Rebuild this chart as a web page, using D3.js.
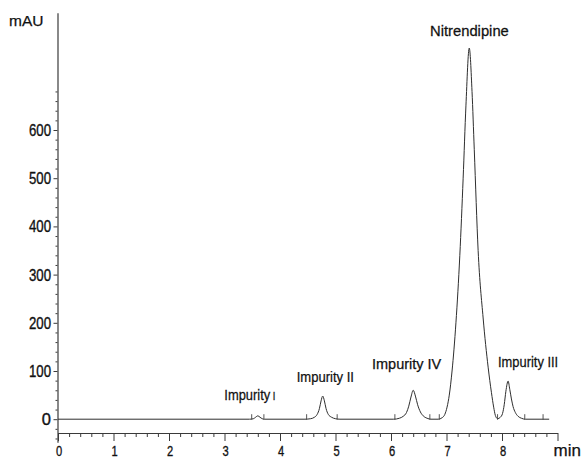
<!DOCTYPE html>
<html>
<head>
<meta charset="utf-8">
<script src="https://cdn.jsdelivr.net/npm/d3@7"></script>
<style>
  html, body { margin: 0; padding: 0; background: #fff; }
  svg { display: block; }
  text { font-family: "Liberation Sans", Arial, sans-serif; fill: #111; }
</style>
</head>
<body>
<svg id="chart" width="581" height="459"></svg>
<script>
// ---- data ----
const traceTime = [0, 3.45, 3.52, 3.56, 3.60, 3.64, 3.68, 3.72,
  4.45, 4.55, 4.62, 4.67, 4.71, 4.74, 4.77, 4.80, 4.83, 4.87, 4.93, 5.00, 5.08,
  6.05, 6.15, 6.22, 6.28, 6.32, 6.36, 6.40, 6.44, 6.48, 6.53, 6.58, 6.65, 6.72,
  6.85, 6.92, 6.97, 7.01, 7.05, 7.10, 7.17, 7.24, 7.30, 7.35, 7.41, 7.46, 7.50, 7.57, 7.66, 7.75, 7.81, 7.85, 7.88, 7.92,
  7.97, 8.01, 8.04, 8.07, 8.11, 8.14, 8.17, 8.20, 8.24, 8.29, 8.35, 8.42, 8.85];
const traceMAU = [0, 0, 1, 4, 7, 4, 1, 0,
  0, 1, 4, 10, 22, 38, 48, 38, 22, 10, 4, 1, 0,
  0, 2, 6, 14, 27, 46, 60, 48, 30, 15, 7, 2, 0,
  0, 3, 10, 25, 50, 100, 200, 340, 500, 650, 770, 680, 560, 350, 210, 108, 55, 25, 8, 1,
  4, 12, 30, 58, 79, 62, 42, 26, 14, 6, 2, 0, 0];
const integrationTimes = [3.49, 3.71, 4.48, 5.03, 6.07, 6.70, 6.87, 7.92, 8.41, 8.74];
const peakNames = ["Impurity", "Impurity II", "Impurity IV", "Nitrendipine", "Impurity III"];
const xTickLabels = ["0", "1", "2", "3", "4", "5", "6", "7", "8"];
const yTickLabels = ["0", "100", "200", "300", "400", "500", "600"];

// ---- layout ----
const svg = d3.select("#chart");
const x = d3.scaleLinear().domain([0, 9]).range([58, 557.5]);
const y = d3.scaleLinear().domain([0, 600]).range([419.2, 130]);
const axisColor = "#3a3a3a";

// Y axis (extends beyond the data range, as in the reference)
const yAxisScale = d3.scaleLinear().domain([-48, 843]).range([y(-48), y(843)]);
const yMinor = d3.range(-40, 720, 20).filter(v => v % 100 !== 0);
const gyMinor = svg.append("g").attr("transform", "translate(57.5,0)")
  .call(d3.axisLeft(yAxisScale).tickValues(yMinor).tickSize(2).tickFormat(""));
gyMinor.select(".domain").remove();
gyMinor.selectAll("line").attr("stroke", axisColor);
const gy = svg.append("g").attr("transform", "translate(57.5,0)")
  .call(d3.axisLeft(yAxisScale).tickValues(yTickLabels.map(Number)).tickSize(4).tickSizeOuter(0).tickFormat(""));
gy.select(".domain").attr("stroke", axisColor).attr("stroke-width", 1.2);
gy.selectAll("line").attr("stroke", axisColor);
// y tick labels (condensed lettering)
svg.append("g").selectAll("text").data(yTickLabels).join("text")
  .attr("transform", d => `translate(51,${y(+d) + 6}) scale(${d === "0" ? 1 : 0.8},1)`)
  .attr("text-anchor", "end")
  .attr("font-size", 16.5)
  .attr("stroke", "#111").attr("stroke-width", 0.35)
  .text(d => d);

// X axis
const xMinor = d3.range(0, 9.01, 0.2).filter(v => Math.abs(v - Math.round(v)) > 1e-6);
const gxMinor = svg.append("g").attr("transform", "translate(0,433)")
  .call(d3.axisBottom(x).tickValues(xMinor).tickSize(4).tickFormat(""));
gxMinor.select(".domain").remove();
gxMinor.selectAll("line").attr("stroke", axisColor);
const gx = svg.append("g").attr("transform", "translate(0,433)")
  .call(d3.axisBottom(x).tickValues(d3.range(0, 10)).tickSize(8).tickSizeOuter(0).tickFormat(""));
gx.select(".domain").attr("stroke", axisColor).attr("stroke-width", 1.2);
gx.selectAll("line").attr("stroke", axisColor);
svg.append("g").selectAll("text").data(xTickLabels).join("text")
  .attr("transform", d => `translate(${x(+d) + 1},456) scale(0.72,1)`)
  .attr("text-anchor", "middle")
  .attr("font-size", 15.5)
  .attr("stroke", "#111").attr("stroke-width", 0.35)
  .text(d => d);

// Axis titles
svg.append("text").attr("x", 9).attr("y", 25.5).attr("font-size", 15.5)
  .attr("stroke", "#111").attr("stroke-width", 0.25).text("mAU");
svg.append("text").attr("x", 553.5).attr("y", 455.5).attr("font-size", 17)
  .attr("stroke", "#111").attr("stroke-width", 0.25).text("min");

// Chromatogram trace
const pts = traceTime.map((t, i) => [t, traceMAU[i]]);
const line = d3.line().x(d => x(d[0])).y(d => y(d[1])).curve(d3.curveMonotoneX);
svg.append("path").datum(pts)
  .attr("d", line)
  .attr("fill", "none")
  .attr("stroke", "#2e2e2e")
  .attr("stroke-width", 1);

// Integration markers
svg.append("g").selectAll("line").data(integrationTimes).join("line")
  .attr("x1", d => x(d)).attr("x2", d => x(d))
  .attr("y1", y(0) - 5).attr("y2", y(0) + 0.5)
  .attr("stroke", "#444").attr("stroke-width", 0.9);

// Peak labels
const labelLayout = [
  { x: 224.3, y: 400, size: 14.5, sx: 0.89 },
  { x: 296.7, y: 381.7, size: 14.5, sx: 0.9 },
  { x: 372, y: 369.3, size: 14.5, sx: 1.0 },
  { x: 430, y: 36, size: 14.5, sx: 1.02 },
  { x: 498, y: 367.3, size: 14.5, sx: 0.89 }
];
peakNames.forEach((name, i) => {
  const L = labelLayout[i];
  const t = svg.append("text")
    .attr("transform", `translate(${L.x},${L.y}) scale(${L.sx},1)`)
    .attr("font-size", L.size)
    .attr("stroke", "#111").attr("stroke-width", 0.25)
    .text(name);
  if (i === 0) {
    t.append("tspan").attr("dx", 3).attr("font-size", 10.5).text("I");
  }
});
</script>
</body>
</html>
